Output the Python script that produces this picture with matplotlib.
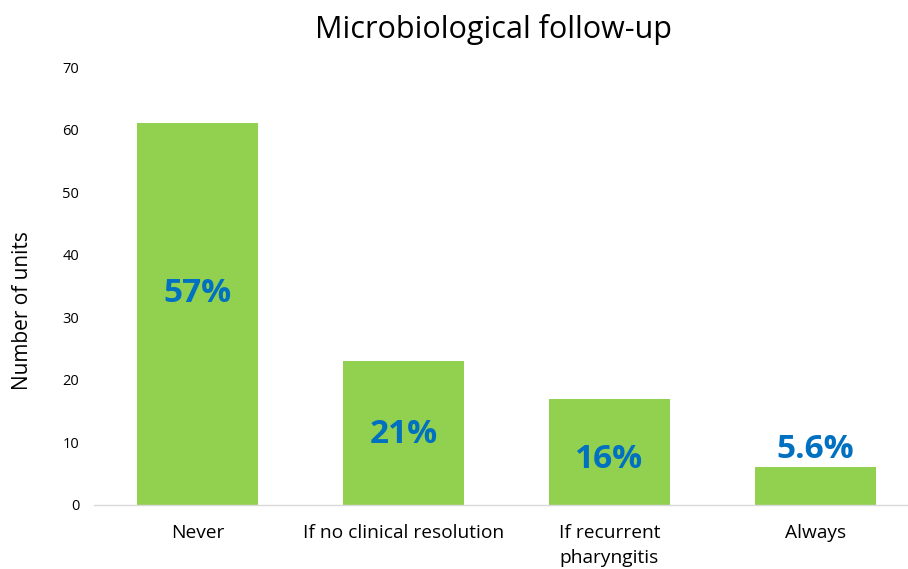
import matplotlib
matplotlib.use("Agg")
import matplotlib.pyplot as plt

categories = ["Never", "If no clinical resolution", "If recurrent\npharyngitis", "Always"]
values = [61, 23, 17, 6]
pct_labels = ["57%", "21%", "16%", "5.6%"]
pct_y = [33.8, 11.3, 7.3, 8.9]

plt.rcParams['font.family'] = ['Open Sans', 'DejaVu Sans']

fig = plt.figure(figsize=(9.08, 5.69), dpi=100)
ax = fig.add_axes([0.104, 0.1125, 0.896, 0.7697])

x = list(range(len(categories)))
ax.bar(x, values, width=0.587, color="#92D050", zorder=2)
for xi, lab, yy in zip(x, pct_labels, pct_y):
    ax.text(xi, yy, lab, ha="center", va="center", fontsize=24, fontweight="bold",
            color="#0070C0", zorder=3)

ax.set_xlim(-0.5, 3.449)
ax.set_ylim(0, 70)
ax.set_yticks(range(0, 71, 10))
ax.set_xticks(x)
ax.set_xticklabels(categories, fontsize=13.8, va="top", linespacing=1.45)
ax.tick_params(axis="y", length=0, labelsize=10.5, pad=11)
ax.tick_params(axis="x", length=0, pad=14)
for s in ["top", "right", "left"]:
    ax.spines[s].set_visible(False)
ax.spines["bottom"].set_color("#D9D9D9")
ax.spines["bottom"].set_linewidth(1)
ax.set_ylabel("Number of units", fontsize=15)
ax.yaxis.set_label_coords(-0.075, 0.443)
fig.text(0.544, 0.948, "Microbiological follow-up", ha="center", va="center", fontsize=22)

fig.savefig("out.png", dpi=100)
